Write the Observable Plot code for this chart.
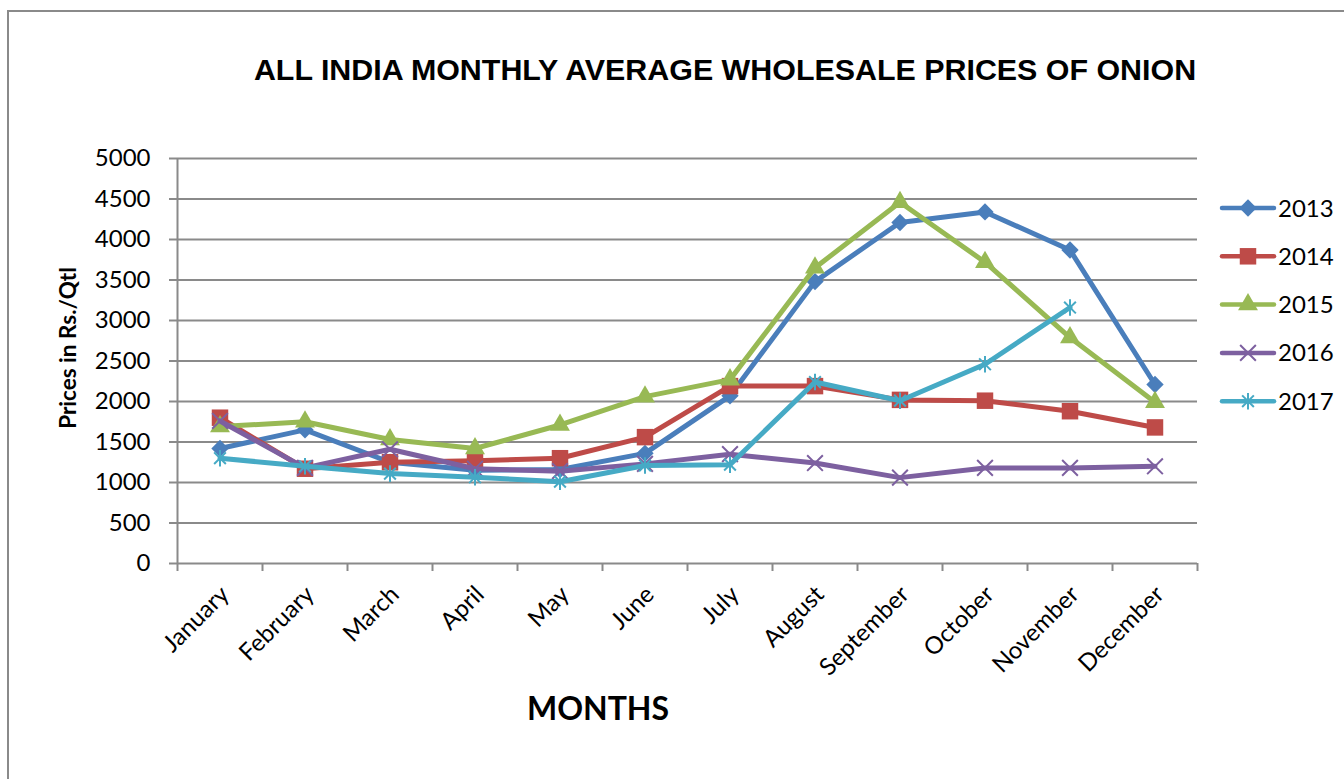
<!DOCTYPE html>
<html>
<head>
<meta charset="utf-8">
<script src="https://cdn.jsdelivr.net/npm/d3@7"></script>
<script src="https://cdn.jsdelivr.net/npm/@observablehq/plot@0.6"></script>
<style>
  html, body { margin: 0; padding: 0; background: #fff; }
  #chart { position: relative; width: 1344px; height: 779px; overflow: hidden; }
</style>
</head>
<body>
<div id="chart"></div>
<script>
const months = ["January","February","March","April","May","June","July","August","September","October","November","December"];
const years = ["2013","2014","2015","2016","2017"];
const v2013 = [1420,1650,1250,1150,1160,1360,2070,3480,4210,4340,3870,2210];
const v2014 = [1800,1170,1250,1270,1300,1560,2190,2190,2020,2010,1880,1680];
const v2015 = [1690,1750,1530,1420,1710,2060,2270,3650,4460,3720,2790,1990];
const v2016 = [1760,1180,1410,1170,1140,1230,1350,1240,1060,1180,1180,1200];
const v2017 = [1300,1200,1110,1065,1010,1210,1220,2240,2010,2460,3160,null];
const yTicks = [0,500,1000,1500,2000,2500,3000,3500,4000,4500,5000];
const colors = ["#4a7ebb","#be4b48","#98b954","#7d60a0","#46aac5"];

const seriesValues = [v2013, v2014, v2015, v2016, v2017];
const data = years.flatMap((yr, s) => months.map((m, i) => ({year: yr, month: m, idx: i, value: seriesValues[s][i]})))
  .filter(d => d.value != null);

// Excel-style star: vertical bar + X
const starSymbol = {
  draw(ctx, size) {
    const r = Math.sqrt(size) * 0.6;
    const t = r * Math.SQRT1_2;
    ctx.moveTo(0, -r); ctx.lineTo(0, r);
    ctx.moveTo(-t, -t); ctx.lineTo(t, t);
    ctx.moveTo(-t, t); ctx.lineTo(t, -t);
  }
};
const markerSpec = [
  {symbol: "diamond2", r: 7.8, fill: true},
  {symbol: "square", r: 9.3, fill: true},
  {symbol: "triangle", r: 7.4, fill: true},
  {symbol: "times", r: 7.2, fill: false},
  {symbol: starSymbol, r: 7.8, fill: false}
];

const seriesMarks = years.flatMap((yr, s) => {
  const d = data.filter(e => e.year === yr);
  const m = markerSpec[s];
  return [
    Plot.line(d, {x: e => e.idx + 0.5, y: "value", stroke: colors[s], strokeWidth: 5, strokeLinejoin: "round", strokeLinecap: "round"}),
    Plot.dot(d, {x: e => e.idx + 0.5, y: "value", symbol: () => m.symbol, r: m.r,
      fill: m.fill ? colors[s] : "none", stroke: colors[s], strokeWidth: m.fill ? 0 : 2})
  ];
});

const svg = Plot.plot({
  width: 1344,
  height: 779,
  marginLeft: 177,
  marginRight: 147,
  marginTop: 158,
  marginBottom: 216,
  style: {fontFamily: "Lato, sans-serif", fontSize: "24px", color: "black", background: "transparent"},
  x: {type: "linear", domain: [0, 12], axis: null},
  y: {domain: [0, 5000], axis: null},
  symbol: {type: "identity"},
  marks: [
    Plot.gridY(yTicks, {stroke: "#8a8a8a", strokeOpacity: 1, strokeWidth: 2}),
    Plot.ruleX([0], {stroke: "#8a8a8a", strokeWidth: 2}),
    Plot.axisY(yTicks, {tickSize: 8, tickPadding: 19, tickFormat: d => String(d), stroke: "#8a8a8a", strokeWidth: 2, fill: "black", fontSize: 24, label: null}),
    Plot.axisX(d3.range(0, 13), {tickSize: 8, tickFormat: () => "", stroke: "#8a8a8a", strokeWidth: 2, label: null}),
    Plot.text(months, {x: (d, i) => i + 0.5, y: () => 0, text: d => d, rotate: -45, textAnchor: "end", lineAnchor: "middle", dx: 5, dy: 27, fontSize: 24, fill: "black"}),
    ...seriesMarks
  ]
});

const root = d3.select(svg);
// Outer border
root.insert("rect", ":first-child")
  .attr("x", 8).attr("y", 11).attr("width", 1400).attr("height", 900)
  .attr("fill", "none").attr("stroke", "#8a8a8a").attr("stroke-width", 2);

// Title
root.append("text")
  .attr("x", 725).attr("y", 80)
  .attr("text-anchor", "middle")
  .style("font-family", "'Liberation Sans', Arial, sans-serif")
  .style("font-weight", "bold")
  .style("font-size", "30.4px")
  .attr("fill", "black")
  .text("ALL INDIA MONTHLY AVERAGE WHOLESALE PRICES OF ONION");

// Y axis title
root.append("text")
  .attr("transform", "translate(76,348) rotate(-90)")
  .attr("text-anchor", "middle")
  .style("font-family", "Lato, sans-serif")
  .style("font-weight", "bold")
  .style("font-size", "22.5px")
  .attr("fill", "black")
  .text("Prices in Rs./Qtl");

// X axis title
root.append("text")
  .attr("x", 598).attr("y", 720)
  .attr("text-anchor", "middle")
  .style("font-family", "Lato, sans-serif")
  .style("font-weight", "bold")
  .style("font-size", "32px")
  .attr("fill", "black")
  .text("MONTHS");

// Legend
const symGen = [d3.symbolDiamond2, d3.symbolSquare, d3.symbolTriangle, d3.symbolTimes, starSymbol];
years.forEach((yr, s) => {
  const cy = 208 + s * 48.3;
  const g = root.append("g").attr("transform", `translate(0,${cy})`);
  g.append("line").attr("x1", 1222).attr("x2", 1274).attr("y1", 0).attr("y2", 0)
    .attr("stroke", colors[s]).attr("stroke-width", 4.5).attr("stroke-linecap", "round");
  const m = markerSpec[s];
  const size = Math.PI * m.r * m.r;
  g.append("path").attr("transform", "translate(1248,0)")
    .attr("d", d3.symbol(symGen[s], size)())
    .attr("fill", m.fill ? colors[s] : "none")
    .attr("stroke", m.fill ? "none" : colors[s])
    .attr("stroke-width", 2);
  g.append("text").attr("x", 1278).attr("y", 8.5)
    .attr("text-anchor", "start")
    .style("font-family", "Lato, sans-serif").style("font-size", "24px")
    .attr("fill", "black").text(yr);
});

document.getElementById("chart").appendChild(svg);
</script>
</body>
</html>
